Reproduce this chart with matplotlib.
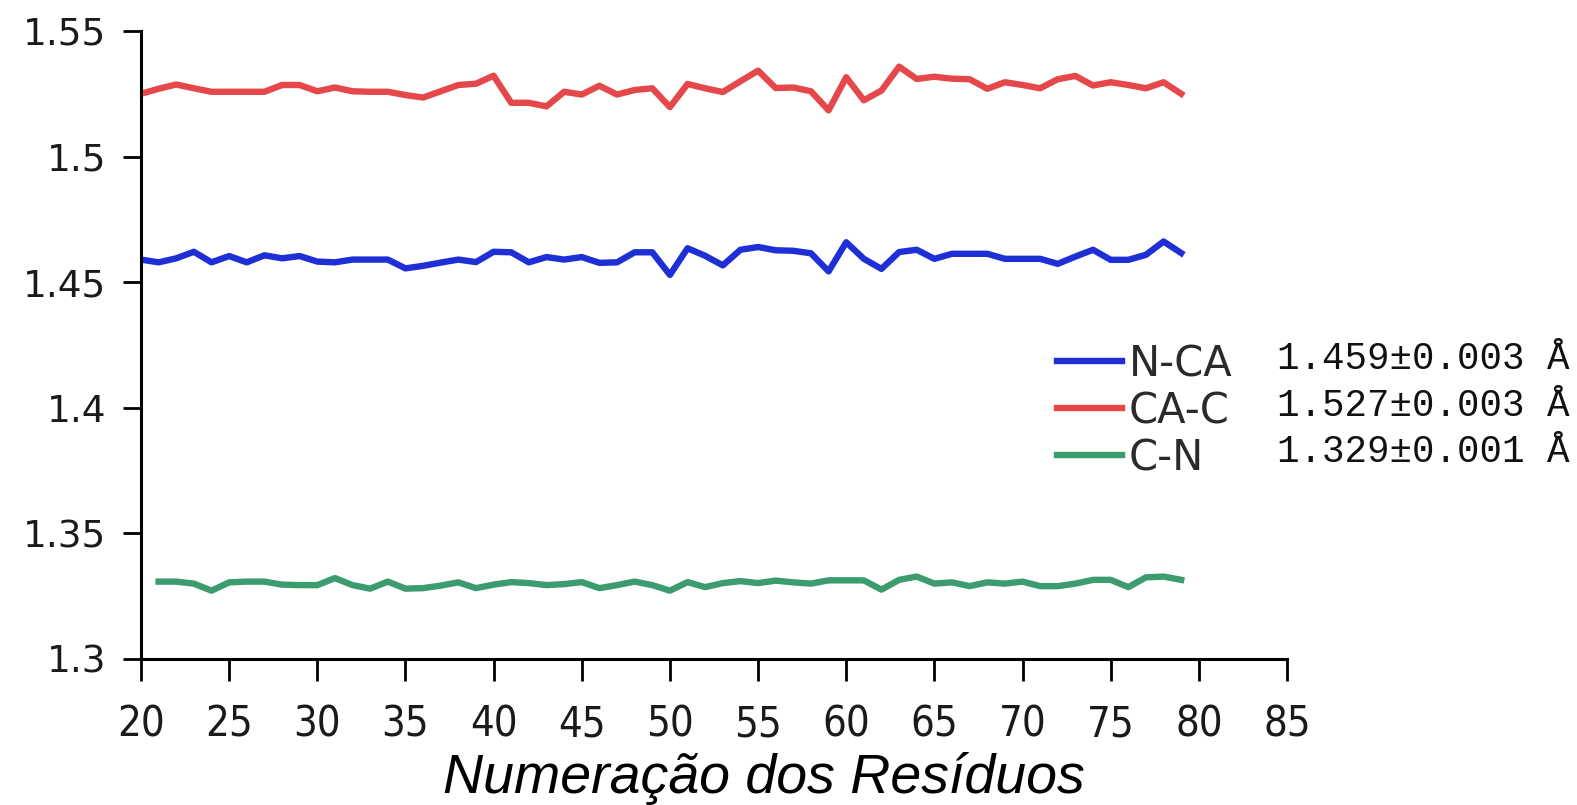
import matplotlib
matplotlib.use('Agg')
import matplotlib.pyplot as plt
import numpy as np

# comprimentos de ligacao por residuo (Angstrom)
residuos = np.arange(20, 80)
residuos_cn = np.arange(21, 80)

n_ca = [1.4590, 1.4579, 1.4595, 1.4621, 1.4579, 1.4604, 1.4579, 1.4607, 1.4595, 1.4604,
        1.4582, 1.4579, 1.4590, 1.4590, 1.4590, 1.4555, 1.4565, 1.4578, 1.4590, 1.4580,
        1.4621, 1.4619, 1.4579, 1.4600, 1.4590, 1.4600, 1.4577, 1.4579, 1.4619, 1.4619,
        1.4529, 1.4635, 1.4605, 1.4567, 1.4629, 1.4640, 1.4627, 1.4625, 1.4615, 1.4543,
        1.4659, 1.4593, 1.4553, 1.4620, 1.4629, 1.4593, 1.4613, 1.4613, 1.4613, 1.4593,
        1.4593, 1.4593, 1.4573, 1.4602, 1.4629, 1.4589, 1.4589, 1.4609, 1.4662, 1.4616]

ca_c = [1.5250, 1.5270, 1.5287, 1.5272, 1.5258, 1.5258, 1.5258, 1.5258, 1.5285, 1.5285,
        1.5260, 1.5275, 1.5260, 1.5258, 1.5258, 1.5245, 1.5235, 1.5260, 1.5285, 1.5290,
        1.5322, 1.5214, 1.5214, 1.5200, 1.5258, 1.5247, 1.5282, 1.5247, 1.5265, 1.5272,
        1.5197, 1.5289, 1.5272, 1.5257, 1.5300, 1.5342, 1.5273, 1.5275, 1.5260, 1.5184,
        1.5316, 1.5224, 1.5263, 1.5358, 1.5309, 1.5318, 1.5310, 1.5308, 1.5270, 1.5296,
        1.5285, 1.5272, 1.5308, 1.5321, 1.5283, 1.5296, 1.5285, 1.5272, 1.5296, 1.5250]

c_n = [1.3308, 1.3308, 1.3300, 1.3272, 1.3305, 1.3308, 1.3308, 1.3296, 1.3294, 1.3294,
       1.3322, 1.3294, 1.3280, 1.3308, 1.3280, 1.3282, 1.3292, 1.3305, 1.3282, 1.3296,
       1.3306, 1.3302, 1.3294, 1.3298, 1.3306, 1.3282, 1.3294, 1.3308, 1.3294, 1.3272,
       1.3306, 1.3286, 1.3302, 1.3310, 1.3302, 1.3312, 1.3305, 1.3300, 1.3313, 1.3313,
       1.3313, 1.3276, 1.3315, 1.3328, 1.3300, 1.3305, 1.3290, 1.3305, 1.3300, 1.3308,
       1.3290, 1.3290, 1.3300, 1.3315, 1.3315, 1.3286, 1.3325, 1.3328, 1.3315]

nomes = ['N-CA', 'CA-C', 'C-N']
medias = ['1.459±0.003 Å', '1.527±0.003 Å', '1.329±0.001 Å']
cores = ['#1f2fd6', '#e5484a', '#3c9c6e']

yticks = [1.3, 1.35, 1.4, 1.45, 1.5, 1.55]
ytick_labels = ['1.3', '1.35', '1.4', '1.45', '1.5', '1.55']
xticks = list(range(20, 90, 5))

fig = plt.figure(figsize=(15.77, 8.05), dpi=100)
ax = fig.add_axes([0.0894, 0.1814, 0.7267, 0.9615 - 0.1814])

l1, = ax.plot(residuos, n_ca, color=cores[0], lw=4.6)
l2, = ax.plot(residuos, ca_c, color=cores[1], lw=4.6)
l3, = ax.plot(residuos_cn, c_n, color=cores[2], lw=4.6)

ax.set_xlim(20, 85)
ax.set_ylim(1.3, 1.55)
ax.set_yticks(yticks)
ax.set_yticklabels(ytick_labels, fontsize=27, color='#1a1a1a')
ax.set_xticks(xticks)
ax.set_xticklabels([str(t) for t in xticks], fontsize=30, fontstretch='condensed',
                   color='#1a1a1a')
ax.tick_params(axis='y', length=13, width=2, pad=12)
ax.tick_params(axis='x', length=16, width=2, pad=16)
for s in ['top', 'right']:
    ax.spines[s].set_visible(False)
for s in ['left', 'bottom']:
    ax.spines[s].set_linewidth(2.2)

ax.set_xlabel('Numeração dos Resíduos', fontsize=40, style='italic',
              family='Liberation Sans')
ax.xaxis.set_label_coords(0.5436, -0.148)

fig.legend([l1, l2, l3], nomes, loc='center left',
           bbox_to_anchor=(1057 / 1577, 1 - 411 / 805), frameon=False,
           fontsize=30, handlelength=1.55, handletextpad=0.18, labelspacing=0.12,
           borderpad=0, borderaxespad=0, labelcolor='#2a2a2a')
for i, txt in enumerate(medias):
    fig.text(1277 / 1577, 1 - (359 + 46.5 * i) / 805, txt, family='Liberation Mono',
             fontsize=27, va='center', ha='left', color='#111111')

fig.savefig('out.png', dpi=100)
